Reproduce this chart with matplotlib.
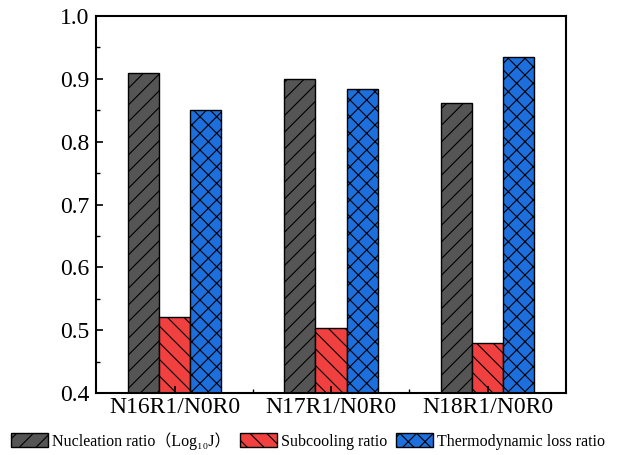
import matplotlib
matplotlib.use('Agg')
import matplotlib.pyplot as plt
import numpy as np
from matplotlib.ticker import MultipleLocator, FixedLocator

groups = ["N16R1/N0R0", "N17R1/N0R0", "N18R1/N0R0"]
nucleation = [0.910, 0.899, 0.861]
subcooling = [0.521, 0.503, 0.480]
thermo_loss = [0.850, 0.884, 0.935]

series_names = ["Nucleation ratio（Log₁₀J）", "Subcooling ratio", "Thermodynamic loss ratio"]
colors = ["#555555", "#f04040", "#1c6fdc"]
hatches = ["//", "\\\\", "xx"]

plt.rcParams['font.family'] = ['Liberation Serif', 'DejaVu Serif', 'Noto Sans CJK SC']
plt.rcParams['hatch.linewidth'] = 0.8

fig = plt.figure(figsize=(6.17, 4.55), dpi=100)
ax = fig.add_axes([0.156, 0.136, 0.761, 0.829])

x = np.arange(len(groups))
width = 0.2
for i, vals in enumerate([nucleation, subcooling, thermo_loss]):
    ax.bar(x + (i - 1) * width, np.array(vals) - 0.4, width, bottom=0.4,
           color=colors[i], edgecolor="black", linewidth=1.0,
           hatch=hatches[i], label=series_names[i])

ax.set_xlim(-0.5, 2.5)
ax.set_ylim(0.4, 1.0)
ax.set_xticks(x)
ax.set_xticklabels(groups, fontsize=17)
ax.xaxis.set_minor_locator(FixedLocator([0.5, 1.5]))
ax.yaxis.set_major_locator(MultipleLocator(0.1))
ax.yaxis.set_minor_locator(MultipleLocator(0.05))
ax.tick_params(axis='y', labelsize=17, pad=5)
ax.tick_params(which='major', direction='in', length=5, width=1.2)
ax.tick_params(which='minor', direction='in', length=3, width=1.0)
ax.tick_params(axis='x', pad=3)
for s in ax.spines.values():
    s.set_linewidth(1.5)

# legend sits under the axes, starting near the left edge of the figure
fig.legend(loc='center left', bbox_to_anchor=(0.018, 0.031), ncol=3, frameon=False,
           fontsize=11.5, handlelength=2.3, handleheight=0.95, columnspacing=0.6,
           handletextpad=0.25, borderpad=0, borderaxespad=0)

fig.savefig("out.png", dpi=100)
